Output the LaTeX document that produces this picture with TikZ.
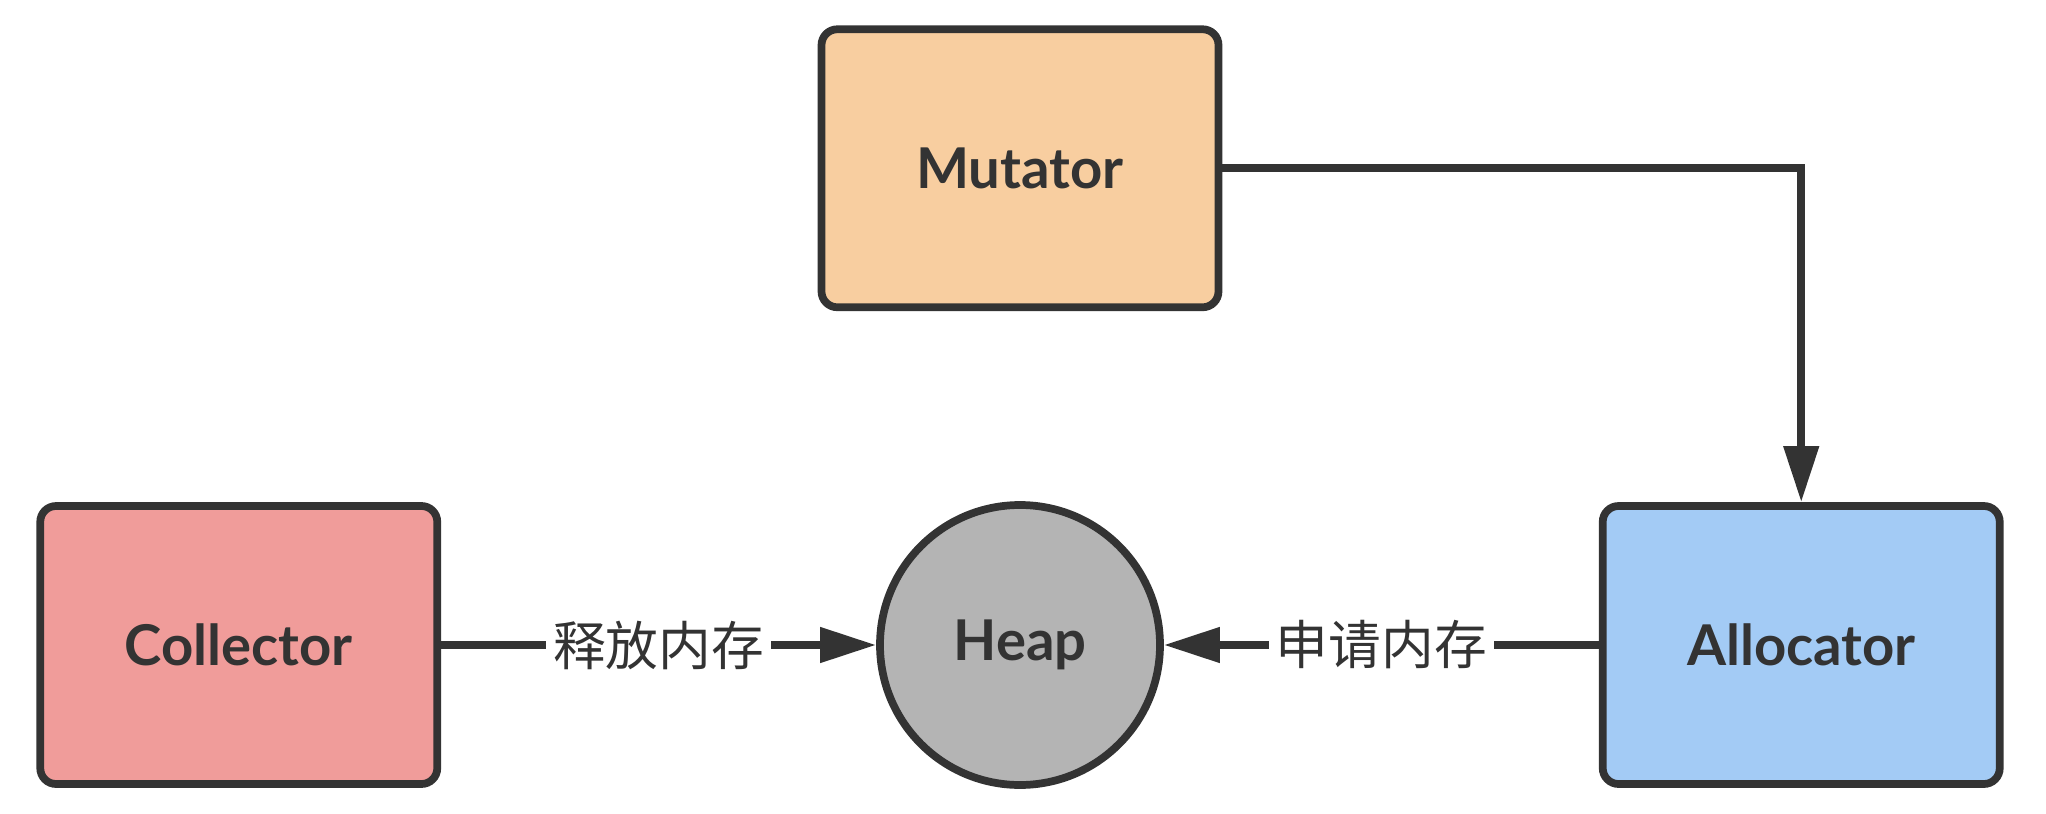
\documentclass[tikz,border=0pt]{standalone}
\usepackage{fontspec}
\setmainfont{Lato}
\newfontfamily\cjk{Noto Sans CJK SC}
\usepackage{xcolor}
\usetikzlibrary{arrows.meta,positioning}

\definecolor{edgegray}{HTML}{333333}
\definecolor{mutfill}{HTML}{F8CEA0}
\definecolor{colfill}{HTML}{F09C9A}
\definecolor{allfill}{HTML}{A3CBF5}
\definecolor{heapfill}{HTML}{B4B4B4}

\begin{document}
\begin{tikzpicture}[
  node distance=1.9cm and 4.35cm,
  box/.style={draw=edgegray, line width=2.2pt, rounded corners=4.5pt,
    minimum width=3.97cm, minimum height=2.78cm,
    font=\fontsize{16}{19}\selectfont\bfseries, text=edgegray},
  heapnode/.style={circle, draw=edgegray, line width=2.2pt, fill=heapfill,
    minimum size=2.8cm, inner sep=0pt,
    font=\fontsize{16}{19}\selectfont\bfseries, text=edgegray},
  lbl/.style={fill=white, inner sep=2pt, text=edgegray,
    font=\cjk\fontsize{15}{18}\selectfont},
  ar/.style={-{Triangle[length=0.56cm, width=0.34cm]}, draw=edgegray,
    line width=2.2pt}
]
\useasboundingbox (0,0) rectangle (20.46,-8.14);

\node[heapnode] (heap) at (10.2,-6.45) {Heap};
\node[box, fill=colfill, left=of heap] (collector) {Collector};
\node[box, fill=allfill, right=of heap] (allocator) {Allocator};
\node[box, fill=mutfill, above=of heap] (mutator) {Mutator};

\draw[ar] (mutator.east) -| (allocator.north);
\draw[ar] (collector) -- node[lbl] {释放内存} (heap);
\draw[ar] (allocator) -- node[lbl] {申请内存} (heap);
\end{tikzpicture}
\end{document}
